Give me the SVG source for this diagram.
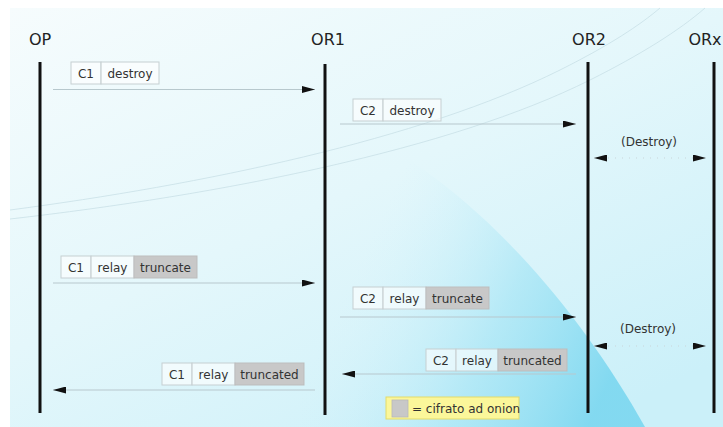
<svg xmlns="http://www.w3.org/2000/svg" width="723" height="427" viewBox="0 0 723 427">
  <defs>
    <linearGradient id="bg" x1="0" y1="0" x2="0.8" y2="1">
      <stop offset="0" stop-color="#f6fcfd"/>
      <stop offset="0.5" stop-color="#e4f7fb"/>
      <stop offset="1" stop-color="#cbf0f9"/>
    </linearGradient>
    <linearGradient id="blob" gradientUnits="userSpaceOnUse" x1="610" y1="380" x2="360" y2="260">
      <stop offset="0" stop-color="#7fd8f0" stop-opacity="0.95"/>
      <stop offset="0.45" stop-color="#a6e5f5" stop-opacity="0.7"/>
      <stop offset="1" stop-color="#d6f3fb" stop-opacity="0"/>
    </linearGradient>
    <marker id="ah" viewBox="0 0 13 7" refX="13" refY="3.5" markerWidth="13" markerHeight="7" markerUnits="userSpaceOnUse" orient="auto-start-reverse">
      <path d="M0,0 L13,3.5 L0,7 Z" fill="#111"/>
    </marker>
    <style>
      .life { stroke: #111; stroke-width: 3; }
      .title { font-family: "DejaVu Sans", sans-serif; font-size: 16px; fill: #222; text-anchor: middle; }
      .msg { stroke: #b7c8cd; stroke-width: 1.2; fill: none; }
      .dot { stroke: #c9d6da; stroke-width: 1.2; stroke-dasharray: 1 6; fill: none; }
      .cell { fill: #ffffff; fill-opacity: 0.6; stroke: #c6cfd2; stroke-width: 1; }
      .enc { fill: #c8c8c8; stroke: #bdbdbd; stroke-width: 1; }
      .lbl { font-family: "DejaVu Sans", sans-serif; font-size: 12px; fill: #333; text-anchor: middle; }
      .swoosh { stroke: #c4dde4; stroke-width: 1; fill: none; opacity: 0.7; }
    </style>
  </defs>

  <!-- background -->
  <rect x="0" y="0" width="723" height="427" fill="#ffffff"/>
  <rect x="10" y="8" width="713" height="419" fill="url(#bg)"/>
  <path d="M330,118 C450,165 565,285 645,427 L300,427 L300,118 Z" fill="url(#blob)"/>
  <path class="swoosh" d="M10,210 C200,185 420,140 560,70 C610,45 640,25 660,8"/>
  <path class="swoosh" d="M10,219 C220,195 450,150 590,80 C640,55 680,30 705,8"/>

  <!-- lifelines -->
  <g id="op">
    <text class="title" x="40" y="45">OP</text>
    <line class="life" x1="40" y1="62" x2="40" y2="413"/>
  </g>
  <g id="or1">
    <text class="title" x="328" y="45">OR1</text>
    <line class="life" x1="325" y1="64" x2="325" y2="415"/>
  </g>
  <g id="or2">
    <text class="title" x="589" y="45">OR2</text>
    <line class="life" x1="588" y1="62" x2="588" y2="413"/>
  </g>
  <g id="orx">
    <text class="title" x="705" y="45">ORx</text>
    <line class="life" x1="714" y1="62" x2="714" y2="413"/>
  </g>

  <!-- connectors -->
  <g id="connectors">
    <line class="msg" x1="53" y1="89.5" x2="315" y2="89.5" marker-end="url(#ah)"/>
    <line class="msg" x1="340" y1="124" x2="576" y2="124" marker-end="url(#ah)"/>
    <line class="dot" x1="594" y1="158" x2="706" y2="158" marker-start="url(#ah)" marker-end="url(#ah)"/>
    <line class="msg" x1="53" y1="283" x2="315" y2="283" marker-end="url(#ah)"/>
    <line class="msg" x1="340" y1="317" x2="576" y2="317" marker-end="url(#ah)"/>
    <line class="dot" x1="594" y1="346" x2="706" y2="346" marker-start="url(#ah)" marker-end="url(#ah)"/>
    <line class="msg" x1="576" y1="374" x2="342" y2="374" marker-end="url(#ah)"/>
    <line class="msg" x1="315" y1="390" x2="53" y2="390" marker-end="url(#ah)"/>
  </g>

  <!-- cells: OP -> OR1 destroy -->
  <g id="cell-c1-destroy">
    <rect class="cell" x="71" y="62" width="30" height="22"/>
    <rect class="cell" x="101" y="62" width="58" height="22"/>
    <text class="lbl" x="86" y="77.5">C1</text>
    <text class="lbl" x="130" y="77.5">destroy</text>
  </g>

  <!-- cells: OR1 -> OR2 destroy -->
  <g id="cell-c2-destroy">
    <rect class="cell" x="353" y="99" width="30" height="22"/>
    <rect class="cell" x="383" y="99" width="58" height="22"/>
    <text class="lbl" x="368" y="114.5">C2</text>
    <text class="lbl" x="412" y="114.5">destroy</text>
  </g>

  <g id="destroy-1">
    <text class="lbl" x="649" y="146">(Destroy)</text>
  </g>

  <!-- cells: OP -> OR1 relay truncate -->
  <g id="cell-c1-truncate">
    <rect class="cell" x="61" y="256" width="30" height="22"/>
    <rect class="cell" x="91" y="256" width="43" height="22"/>
    <rect class="enc" x="134" y="256" width="63" height="22"/>
    <text class="lbl" x="76" y="271.5">C1</text>
    <text class="lbl" x="112.5" y="271.5">relay</text>
    <text class="lbl" x="165.5" y="271.5">truncate</text>
  </g>

  <!-- cells: OR1 -> OR2 relay truncate -->
  <g id="cell-c2-truncate">
    <rect class="cell" x="353" y="287" width="30" height="22"/>
    <rect class="cell" x="383" y="287" width="43" height="22"/>
    <rect class="enc" x="426" y="287" width="63" height="22"/>
    <text class="lbl" x="368" y="302.5">C2</text>
    <text class="lbl" x="404.5" y="302.5">relay</text>
    <text class="lbl" x="457.5" y="302.5">truncate</text>
  </g>

  <g id="destroy-2">
    <text class="lbl" x="648" y="333">(Destroy)</text>
  </g>

  <!-- cells: OR2 -> OR1 relay truncated -->
  <g id="cell-c2-truncated">
    <rect class="cell" x="426" y="349" width="30" height="22"/>
    <rect class="cell" x="456" y="349" width="42" height="22"/>
    <rect class="enc" x="498" y="349" width="69" height="22"/>
    <text class="lbl" x="441" y="364.5">C2</text>
    <text class="lbl" x="477" y="364.5">relay</text>
    <text class="lbl" x="532.5" y="364.5">truncated</text>
  </g>

  <!-- cells: OR1 -> OP relay truncated -->
  <g id="cell-c1-truncated">
    <rect class="cell" x="162" y="363" width="30" height="22"/>
    <rect class="cell" x="192" y="363" width="43" height="22"/>
    <rect class="enc" x="235" y="363" width="69" height="22"/>
    <text class="lbl" x="177" y="378.5">C1</text>
    <text class="lbl" x="213.5" y="378.5">relay</text>
    <text class="lbl" x="269.5" y="378.5">truncated</text>
  </g>

  <!-- legend -->
  <g id="legend">
    <rect x="386" y="397" width="133" height="22" fill="#fbf79a" stroke="#e3db6a" stroke-width="1"/>
    <rect x="392" y="400" width="16" height="17" fill="#c8c8c8" stroke="#b8b8b8" stroke-width="0.8"/>
    <text x="412" y="412.5" font-family="DejaVu Sans, sans-serif" font-size="12" fill="#333">= cifrato ad onion</text>
  </g>
</svg>
